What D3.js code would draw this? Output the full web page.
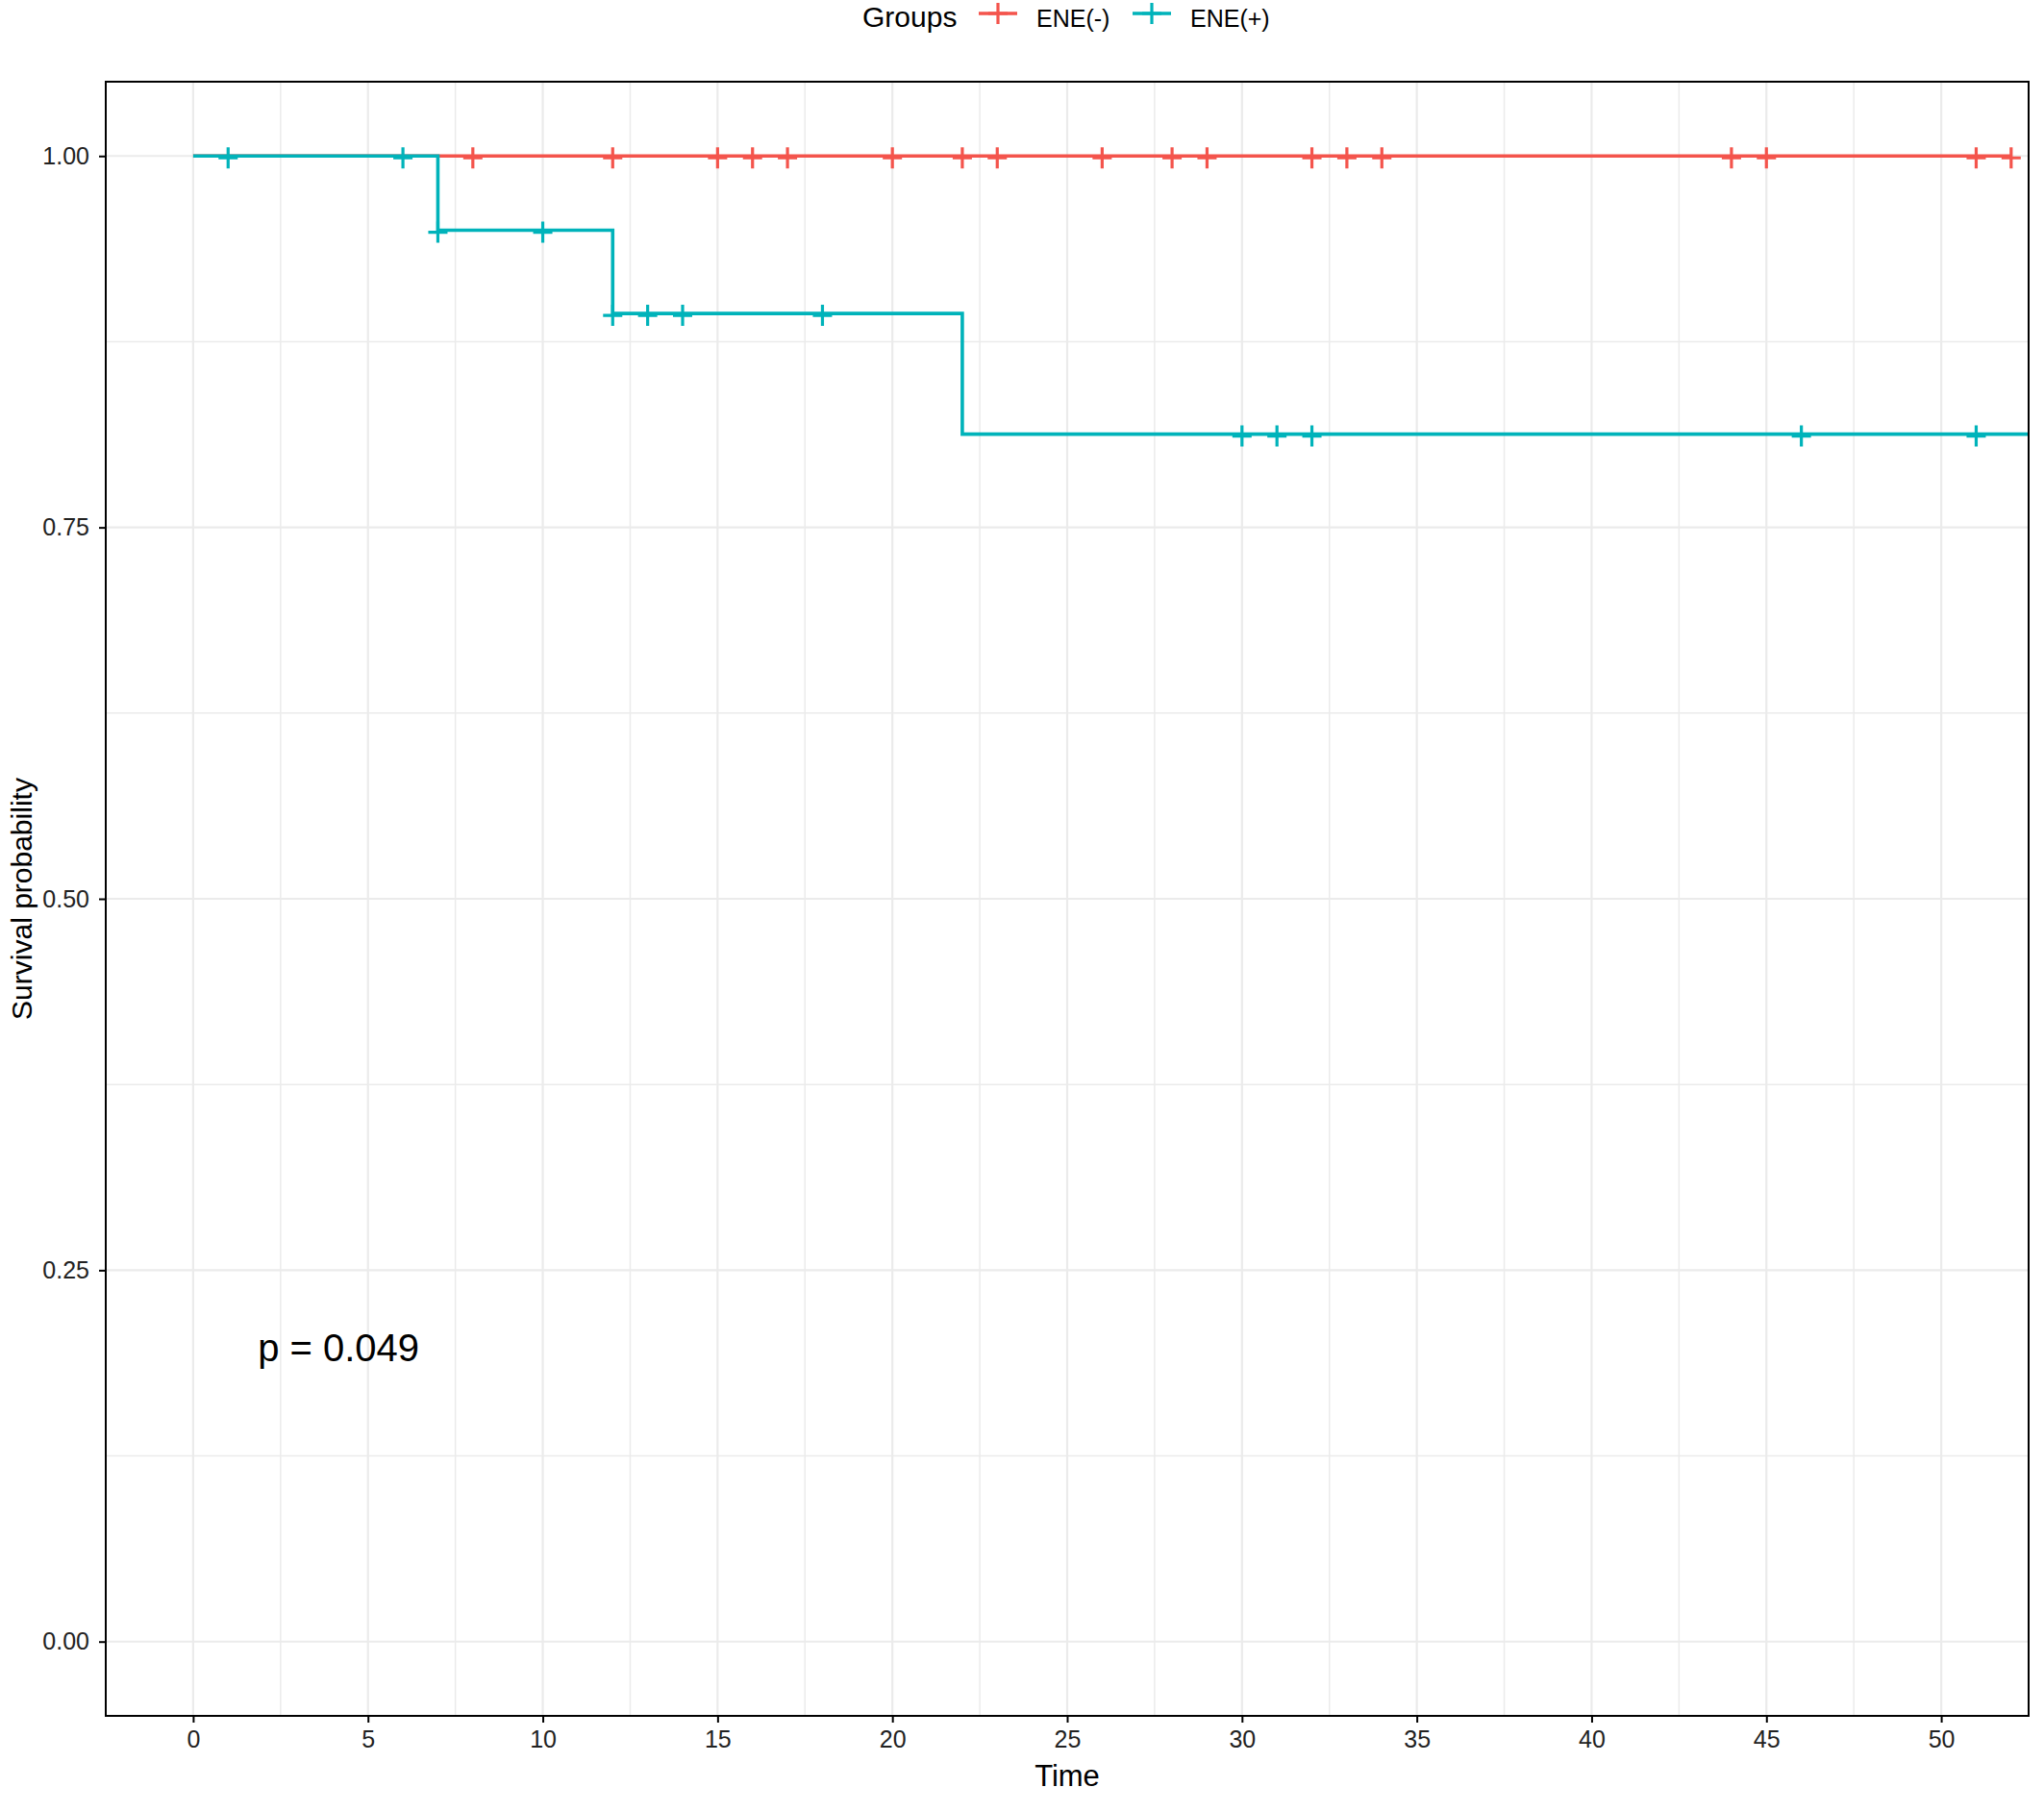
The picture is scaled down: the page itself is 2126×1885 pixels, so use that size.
<!DOCTYPE html>
<meta charset="utf-8">
<style>
html, body { margin: 0; padding: 0; background: #fff; }
svg { display: block; font-family: Arial, "Liberation Sans", sans-serif; }
.grid line { stroke: #ebebeb; }
.axis path { display: none; }
.axis line { stroke: #000; stroke-width: 2; }
.axis text { fill: #222; font-size: 25px; }
</style>
<div id="chart"></div>
<script src="https://cdn.jsdelivr.net/npm/d3@7"></script>
<script>

// groups and colours
var groups = ['ENE(-)', 'ENE(+)'];
var colors = ['#f4544c', '#00b3ba'];

// step curves: time where survival changes and the level from there on
var negTimes = [0, 52];
var negSurv  = [1, 1];
var posTimes = [0, 7, 12, 22, 54];
var posSurv  = [1, 0.95, 0.894, 0.8128, 0.8128];

// censored times
var negCensor = [8, 12, 15, 16, 17, 20, 22, 23, 26, 28, 29, 32, 33, 34, 44, 45, 51, 52];
var posCensor = [1, 6, 7, 10, 12, 13, 14, 18, 30, 31, 32, 46, 51];

var xTicks = [0, 5, 10, 15, 20, 25, 30, 35, 40, 45, 50];
var yTicks = [0, 0.25, 0.5, 0.75, 1];
var pLabel = 'p = 0.049';

var width = 2126, height = 1885;
var margin = {top: 85, right: 16, bottom: 100, left: 110};

var svg = d3.select('#chart').append('svg')
    .attr('width', width)
    .attr('height', height);

var x = d3.scaleLinear().domain([-2.5, 52.5]).range([margin.left, width - margin.right]);
var y = d3.scaleLinear().domain([-0.05, 1.05]).range([height - margin.bottom, margin.top]);

svg.append('defs').append('clipPath').attr('id', 'clip')
  .append('rect')
    .attr('x', x.range()[0]).attr('y', y.range()[1])
    .attr('width', x.range()[1] - x.range()[0])
    .attr('height', y.range()[0] - y.range()[1]);

// grid (minor + major)
var grid = svg.append('g').attr('class', 'grid');
var xMinor = xTicks.map(function(d) { return d - 2.5; }).concat([52.5]).filter(function(d) { return d > -2.5 && d < 52.5; });
var yMinor = [0.125, 0.375, 0.625, 0.875];
grid.selectAll('.xminor').data(xMinor).enter().append('line')
    .attr('x1', x).attr('x2', x)
    .attr('y1', y.range()[0]).attr('y2', y.range()[1])
    .attr('stroke-width', 1.5);
grid.selectAll('.yminor').data(yMinor).enter().append('line')
    .attr('y1', y).attr('y2', y)
    .attr('x1', x.range()[0]).attr('x2', x.range()[1])
    .attr('stroke-width', 1.5);
grid.selectAll('.xmajor').data(xTicks).enter().append('line')
    .attr('x1', x).attr('x2', x)
    .attr('y1', y.range()[0]).attr('y2', y.range()[1])
    .attr('stroke-width', 2.2);
grid.selectAll('.ymajor').data(yTicks).enter().append('line')
    .attr('y1', y).attr('y2', y)
    .attr('x1', x.range()[0]).attr('x2', x.range()[1])
    .attr('stroke-width', 2.2);

// curves
var line = d3.line()
    .x(function(d) { return x(d[0]); })
    .y(function(d) { return y(d[1]); })
    .curve(d3.curveStepAfter);

function survAt(times, surv, t) {
  var s = surv[0];
  for (var i = 0; i < times.length; i++) if (times[i] <= t) s = surv[i];
  return s;
}

var series = [
  {times: negTimes, surv: negSurv, censor: negCensor, color: colors[0]},
  {times: posTimes, surv: posSurv, censor: posCensor, color: colors[1]}
];

var plot = svg.append('g').attr('clip-path', 'url(#clip)');
series.forEach(function(s) {
  var g = plot.append('g');
  g.append('path')
      .datum(d3.zip(s.times, s.surv))
      .attr('d', line)
      .attr('fill', 'none')
      .attr('stroke', s.color)
      .attr('stroke-width', 3.6);
  g.selectAll('path.cross')
      .data(s.censor)
    .enter().append('path')
      .attr('class', 'cross')
      .attr('transform', function(t) { return 'translate(' + x(t) + ',' + (y(survAt(s.times, s.surv, t)) + 2) + ')'; })
      .attr('d', 'M-10,0H10M0,-11V11')
      .attr('stroke', s.color)
      .attr('stroke-width', 3.2);
});

// p-value
svg.append('text')
    .attr('x', x(1.85))
    .attr('y', y(0.198))
    .attr('dominant-baseline', 'central')
    .style('font-size', '40px')
    .attr('fill', '#000')
    .text(pLabel);

// panel border
svg.append('rect')
    .attr('x', x.range()[0]).attr('y', y.range()[1])
    .attr('width', x.range()[1] - x.range()[0])
    .attr('height', y.range()[0] - y.range()[1])
    .attr('fill', 'none')
    .attr('stroke', '#000')
    .attr('stroke-width', 2);

// axes
svg.append('g')
    .attr('class', 'axis')
    .attr('transform', 'translate(0,' + y.range()[0] + ')')
    .call(d3.axisBottom(x).tickValues(xTicks).tickSize(7).tickPadding(8).tickFormat(d3.format('d')));

svg.append('g')
    .attr('class', 'axis')
    .attr('transform', 'translate(' + x.range()[0] + ',0)')
    .call(d3.axisLeft(y).tickValues(yTicks).tickSize(7).tickPadding(10).tickFormat(d3.format('.2f')));

// axis titles
svg.append('text')
    .attr('x', (x.range()[0] + x.range()[1]) / 2)
    .attr('y', 1858)
    .attr('text-anchor', 'middle')
    .style('font-size', '31px')
    .text('Time');

svg.append('text')
    .attr('transform', 'translate(33,' + (y.range()[0] + y.range()[1]) / 2 + ') rotate(-90)')
    .attr('text-anchor', 'middle')
    .style('font-size', '30px')
    .text('Survival probability');

// legend
var legend = svg.append('g').attr('transform', 'translate(0,0)');
legend.append('text')
    .attr('x', 897).attr('y', 28)
    .style('font-size', '30px')
    .text('Groups');
var keyX = [1018, 1178];
groups.forEach(function(name, i) {
  var k = legend.append('g').attr('transform', 'translate(' + keyX[i] + ',14)');
  k.append('line').attr('x1', 0).attr('x2', 40)
      .attr('stroke', colors[i]).attr('stroke-width', 3.6);
  k.append('path').attr('d', 'M10,0H30M20,-11V11')
      .attr('stroke', colors[i]).attr('stroke-width', 3.2);
  k.append('text')
      .attr('x', 60).attr('y', 14)
      .style('font-size', '25px')
      .text(name);
});

</script>
